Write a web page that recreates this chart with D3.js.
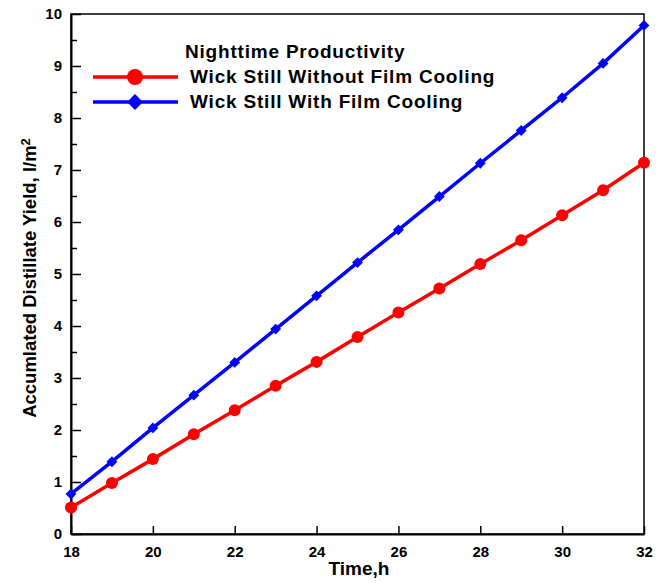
<!DOCTYPE html>
<html>
<head>
<meta charset="utf-8">
<script src="https://cdn.jsdelivr.net/npm/d3@7"></script>
<style>
  body { margin: 0; background: #fff; }
  text { font-family: "Liberation Sans", Arial, sans-serif; font-weight: bold; }
</style>
</head>
<body>
<div id="chart"></div>
<script>
// data
var hours = [18, 19, 20, 21, 22, 23, 24, 25, 26, 27, 28, 29, 30, 31, 32];
var withoutFilm = [0.51, 0.98, 1.44, 1.92, 2.38, 2.85, 3.31, 3.79, 4.26, 4.72, 5.19, 5.65, 6.13, 6.61, 7.14];
var withFilm = [0.77, 1.39, 2.04, 2.67, 3.30, 3.94, 4.58, 5.22, 5.85, 6.49, 7.13, 7.76, 8.39, 9.05, 9.78];
var xTicks = [18, 20, 22, 24, 26, 28, 30, 32];
var yTicks = [0, 1, 2, 3, 4, 5, 6, 7, 8, 9, 10];
var legendTitle = "Nighttime Productivity";
var seriesNames = ["Wick Still Without Film Cooling", "Wick Still With Film Cooling"];

var W = 666, H = 583;
var margin = { top: 14, right: 22, bottom: 49, left: 71 };
var width = W - margin.left - margin.right;
var height = H - margin.top - margin.bottom;

var svg = d3.select("#chart").append("svg")
  .attr("width", W).attr("height", H);

var g = svg.append("g")
  .attr("transform", "translate(" + margin.left + "," + margin.top + ")");

var x = d3.scaleLinear().domain([18, 32]).range([0, width]);
var y = d3.scaleLinear().domain([0, 10]).range([height, 0]);

// frame
g.append("rect")
  .attr("width", width).attr("height", height)
  .attr("fill", "none").attr("stroke", "#000").attr("stroke-width", 1.5);

// x axis, ticks pointing inward
var xAxis = g.append("g")
  .attr("transform", "translate(0," + height + ")")
  .call(d3.axisBottom(x).tickValues(xTicks).tickSizeInner(-8).tickSizeOuter(0).tickPadding(12));
xAxis.select(".domain").attr("stroke-width", 2);
xAxis.selectAll(".tick line").attr("stroke-width", 1.5);
xAxis.selectAll("text").style("font-size", "15px").attr("fill", "#000");

// y axis, major + minor ticks inward
var yAxis = g.append("g")
  .call(d3.axisLeft(y).tickValues(yTicks).tickSizeInner(-10).tickSizeOuter(0).tickPadding(9));
yAxis.select(".domain").attr("stroke-width", 2);
yAxis.selectAll(".tick line").attr("stroke-width", 1.5);
yAxis.selectAll("text").style("font-size", "15px").attr("fill", "#000");

g.append("g")
  .call(d3.axisLeft(y).tickValues(d3.range(0.5, 10, 1)).tickSizeInner(-6).tickSizeOuter(0).tickFormat(""))
  .call(s => s.select(".domain").remove())
  .selectAll(".tick line").attr("stroke-width", 1.5);

// axis titles
svg.append("text")
  .attr("x", 359)
  .attr("y", H - 8)
  .attr("text-anchor", "middle")
  .style("font-size", "19px")
  .text("Time,h");

var yt = svg.append("text")
  .attr("transform", "translate(36,278) rotate(-90)")
  .attr("text-anchor", "middle")
  .style("font-size", "18.5px");
yt.append("tspan").text("Accumlated Distillate Yield, l/m");
yt.append("tspan").attr("dy", "-0.45em").style("font-size", "13px").text("2");

// lines
var line = d3.line()
  .x(function(d) { return x(d[0]); })
  .y(function(d) { return y(d[1]); });

var redData = hours.map(function(h, i) { return [h, withoutFilm[i]]; });
var blueData = hours.map(function(h, i) { return [h, withFilm[i]]; });

g.append("path").datum(redData)
  .attr("d", line).attr("fill", "none").attr("stroke", "#ff0000").attr("stroke-width", 3.5);
g.append("path").datum(blueData)
  .attr("d", line).attr("fill", "none").attr("stroke", "#0000ff").attr("stroke-width", 3.5);

var diamondSym = d3.symbol().type(d3.symbolDiamond2);

g.selectAll(".red-pt").data(redData).enter()
  .append("circle")
  .attr("cx", d => x(d[0])).attr("cy", d => y(d[1]))
  .attr("r", 6).attr("fill", "#ff0000");

g.selectAll(".blue-pt").data(blueData).enter()
  .append("path")
  .attr("transform", d => "translate(" + x(d[0]) + "," + y(d[1]) + ")")
  .attr("d", diamondSym.size(75)).attr("fill", "#0000ff");

// legend
var leg = svg.append("g");
leg.append("text").attr("x", 185).attr("y", 58)
  .style("font-size", "19px").style("letter-spacing", "0.8px").text(legendTitle);

var legRows = [
  { name: seriesNames[0], color: "#ff0000", yy: 77, sym: "circle" },
  { name: seriesNames[1], color: "#0000ff", yy: 102, sym: "diamond" }
];
legRows.forEach(function(r) {
  leg.append("line")
    .attr("x1", 93).attr("x2", 178).attr("y1", r.yy).attr("y2", r.yy)
    .attr("stroke", r.color).attr("stroke-width", 3.5);
  if (r.sym === "circle") {
    leg.append("circle").attr("cx", 135).attr("cy", r.yy).attr("r", 8).attr("fill", r.color);
  } else {
    leg.append("path").attr("transform", "translate(135," + r.yy + ")")
      .attr("d", diamondSym.size(160)).attr("fill", r.color);
  }
  leg.append("text").attr("x", 190).attr("y", r.yy + 6)
    .style("font-size", "19px").style("letter-spacing", "0.8px").text(r.name);
});
</script>
</body>
</html>
